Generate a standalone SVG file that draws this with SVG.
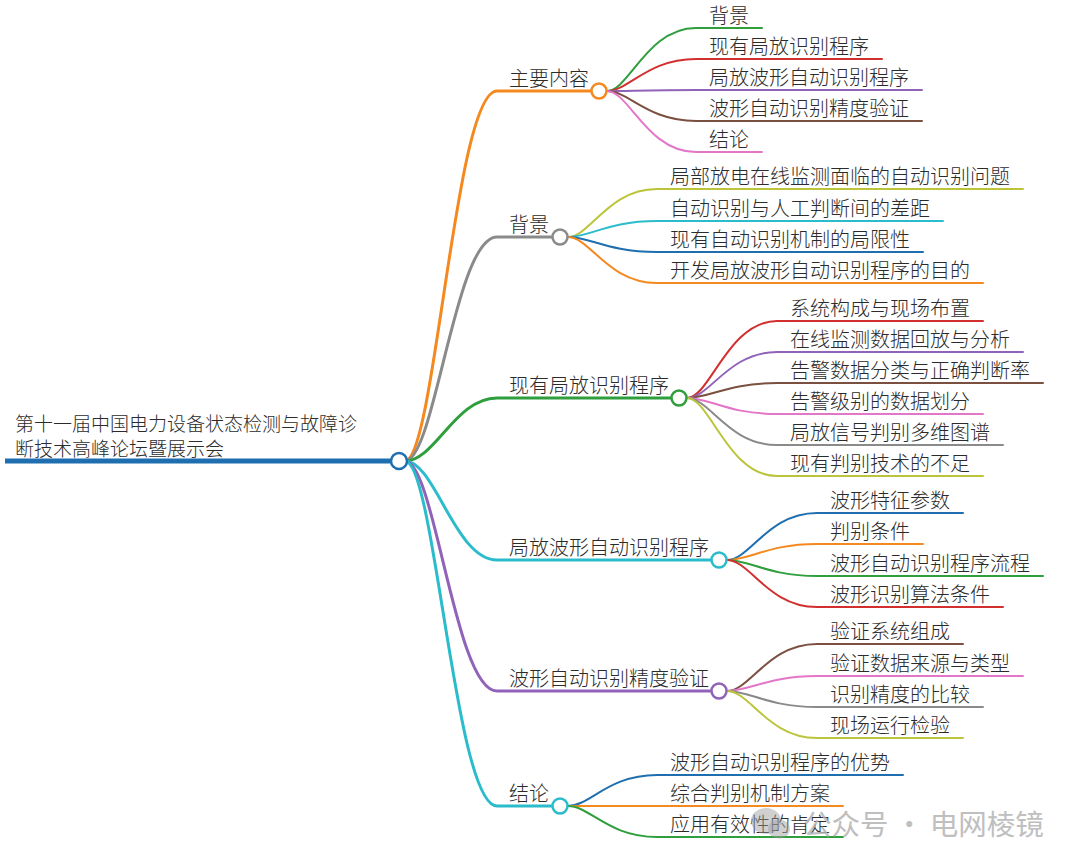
<svg xmlns="http://www.w3.org/2000/svg" width="1080" height="868" viewBox="0 0 1080 868">
<style>
text{font-family:"Noto Sans CJK SC","Noto Sans",sans-serif;fill:#2b2b2b;font-weight:300;}
.t0{font-size:19px;}
.t1{font-size:20px;}
.t2{font-size:20px;}
.c1{fill:none;stroke-width:3;stroke-linecap:round;}
.c2{fill:none;stroke-width:2;stroke-linecap:round;}
.dot{fill:#fff;stroke-width:2.5;}
.orange{stroke:#f4891f}.gray{stroke:#8a8a8a}.green{stroke:#2f9e3c}.cyan{stroke:#2bbccc}
.purple{stroke:#9063b8}.blue{stroke:#1f6fb0}.red{stroke:#d2302f}.brown{stroke:#7b5040}
.pink{stroke:#e476c8}.olive{stroke:#bcc43a}
.wm{font-size:28.5px;fill:#b4b4b4;font-weight:400;}
</style>
<rect width="1080" height="868" fill="#fff"/>
<g id="connectors">
  <path d="M5 461 H391" fill="none" stroke="#1f6fb0" stroke-width="5"/>
  <path class="c1 orange" d="M405 461 C435 461 455 91 497 91 H591"/>
  <path class="c1 gray" d="M405 461 C435 461 455 237 497 237 H552"/>
  <path class="c1 green" d="M405 461 C435 461 455 398 497 398 H671"/>
  <path class="c1 cyan" d="M405 461 C435 461 455 560 497 560 H711"/>
  <path class="c1 purple" d="M405 461 C435 461 455 691 497 691 H711"/>
  <path class="c1 cyan" d="M405 461 C435 461 455 806 497 806 H552"/>

  <path class="c2 green" d="M607 91 C629 91 647 28 696 28 H762"/>
  <path class="c2 red" d="M607 91 C629 91 647 59 696 59 H882"/>
  <path class="c2 purple" d="M607 91 C629 91 647 90 696 90 H922"/>
  <path class="c2 brown" d="M607 91 C629 91 647 121 696 121 H922"/>
  <path class="c2 pink" d="M607 91 C629 91 647 152 696 152 H762"/>

  <path class="c2 olive" d="M568 237 C590 237 608 189 657 189 H1023"/>
  <path class="c2 cyan" d="M568 237 C590 237 608 221 657 221 H943"/>
  <path class="c2 blue" d="M568 237 C590 237 608 252 657 252 H923"/>
  <path class="c2 orange" d="M568 237 C590 237 608 283 657 283 H983"/>

  <path class="c2 red" d="M687 398 C710 398 728 321 777 321 H983"/>
  <path class="c2 purple" d="M687 398 C710 398 728 352 777 352 H1023"/>
  <path class="c2 brown" d="M687 398 C710 398 728 383 777 383 H1043"/>
  <path class="c2 pink" d="M687 398 C710 398 728 414 777 414 H983"/>
  <path class="c2 gray" d="M687 398 C710 398 728 445 777 445 H1003"/>
  <path class="c2 olive" d="M687 398 C710 398 728 476 777 476 H983"/>

  <path class="c2 blue" d="M727 560 C750 560 768 513 817 513 H963"/>
  <path class="c2 orange" d="M727 560 C750 560 768 544 817 544 H923"/>
  <path class="c2 green" d="M727 560 C750 560 768 576 817 576 H1043"/>
  <path class="c2 red" d="M727 560 C750 560 768 607 817 607 H1003"/>

  <path class="c2 brown" d="M727 691 C750 691 768 644 817 644 H963"/>
  <path class="c2 pink" d="M727 691 C750 691 768 676 817 676 H1023"/>
  <path class="c2 gray" d="M727 691 C750 691 768 707 817 707 H983"/>
  <path class="c2 olive" d="M727 691 C750 691 768 738 817 738 H963"/>

  <path class="c2 blue" d="M568 806 C590 806 608 775 657 775 H903"/>
  <path class="c2 orange" d="M568 806 C590 806 608 806 657 806 H843"/>
  <path class="c2 green" d="M568 806 C590 806 608 837 657 837 H843"/>
</g>

<g id="root">
  <text class="t0" x="15" y="431">第十一届中国电力设备状态检测与故障诊</text>
  <text class="t0" x="15" y="456">断技术高峰论坛暨展示会</text>
  <circle class="dot blue" cx="399" cy="461" r="8"/>
</g>

<g id="n1">
  <text class="t1" x="509" y="86">主要内容</text>
  <circle class="dot orange" cx="599" cy="91" r="7.5"/>
</g>
<g id="n1-1"><text class="t2" x="709" y="23">背景</text></g>
<g id="n1-2"><text class="t2" x="709" y="54">现有局放识别程序</text></g>
<g id="n1-3"><text class="t2" x="709" y="85">局放波形自动识别程序</text></g>
<g id="n1-4"><text class="t2" x="709" y="116">波形自动识别精度验证</text></g>
<g id="n1-5"><text class="t2" x="709" y="147">结论</text></g>

<g id="n2">
  <text class="t1" x="509" y="232">背景</text>
  <circle class="dot gray" cx="560" cy="237" r="7.5"/>
</g>
<g id="n2-1"><text class="t2" x="670" y="184">局部放电在线监测面临的自动识别问题</text></g>
<g id="n2-2"><text class="t2" x="670" y="216">自动识别与人工判断间的差距</text></g>
<g id="n2-3"><text class="t2" x="670" y="247">现有自动识别机制的局限性</text></g>
<g id="n2-4"><text class="t2" x="670" y="278">开发局放波形自动识别程序的目的</text></g>

<g id="n3">
  <text class="t1" x="509" y="393">现有局放识别程序</text>
  <circle class="dot green" cx="679" cy="398" r="7.5"/>
</g>
<g id="n3-1"><text class="t2" x="790" y="316">系统构成与现场布置</text></g>
<g id="n3-2"><text class="t2" x="790" y="347">在线监测数据回放与分析</text></g>
<g id="n3-3"><text class="t2" x="790" y="378">告警数据分类与正确判断率</text></g>
<g id="n3-4"><text class="t2" x="790" y="409">告警级别的数据划分</text></g>
<g id="n3-5"><text class="t2" x="790" y="440">局放信号判别多维图谱</text></g>
<g id="n3-6"><text class="t2" x="790" y="471">现有判别技术的不足</text></g>

<g id="n4">
  <text class="t1" x="509" y="555">局放波形自动识别程序</text>
  <circle class="dot cyan" cx="719" cy="560" r="7.5"/>
</g>
<g id="n4-1"><text class="t2" x="830" y="508">波形特征参数</text></g>
<g id="n4-2"><text class="t2" x="830" y="539">判别条件</text></g>
<g id="n4-3"><text class="t2" x="830" y="571">波形自动识别程序流程</text></g>
<g id="n4-4"><text class="t2" x="830" y="602">波形识别算法条件</text></g>

<g id="n5">
  <text class="t1" x="509" y="686">波形自动识别精度验证</text>
  <circle class="dot purple" cx="719" cy="691" r="7.5"/>
</g>
<g id="n5-1"><text class="t2" x="830" y="639">验证系统组成</text></g>
<g id="n5-2"><text class="t2" x="830" y="671">验证数据来源与类型</text></g>
<g id="n5-3"><text class="t2" x="830" y="702">识别精度的比较</text></g>
<g id="n5-4"><text class="t2" x="830" y="733">现场运行检验</text></g>

<g id="n6">
  <text class="t1" x="509" y="801">结论</text>
  <circle class="dot cyan" cx="560" cy="806" r="7.5"/>
</g>
<g id="n6-1"><text class="t2" x="670" y="770">波形自动识别程序的优势</text></g>
<g id="n6-2"><text class="t2" x="670" y="801">综合判别机制方案</text></g>
<g id="n6-3"><text class="t2" x="670" y="832">应用有效性的肯定</text></g>

<g id="watermark" opacity="0.85">
  <ellipse cx="766" cy="821" rx="15" ry="13" fill="#9a9a9a" opacity="0.55"/>
  <ellipse cx="779" cy="829" rx="11" ry="9.5" fill="#9a9a9a" opacity="0.55"/>
  <text class="wm" x="803" y="835">公众号 · 电网棱镜</text>
</g>
</svg>
